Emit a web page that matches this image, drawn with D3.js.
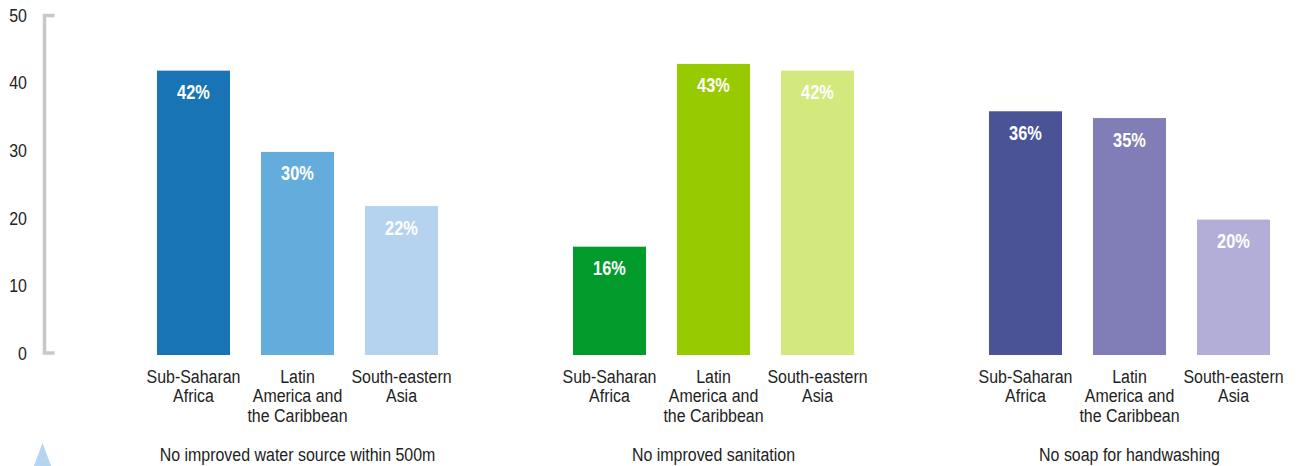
<!DOCTYPE html>
<html>
<head>
<meta charset="utf-8">
<script src="https://cdn.jsdelivr.net/npm/d3@7"></script>
<style>
  html, body { margin: 0; padding: 0; background: #ffffff; }
  svg { display: block; }
</style>
</head>
<body>
<svg id="chart" width="1296" height="466"></svg>
<script>
// ---- data ----
const groups = ["No improved water source within 500m", "No improved sanitation", "No soap for handwashing"];
const regions = ["Sub-Saharan Africa", "Latin America and the Caribbean", "South-eastern Asia"];
const regionLines = [["Sub-Saharan", "Africa"], ["Latin", "America and", "the Caribbean"], ["South-eastern", "Asia"]];
const waterValues = [42, 30, 22];
const sanitationValues = [16, 43, 42];
const soapValues = [36, 35, 20];
const yTicks = [0, 10, 20, 30, 40, 50];
const palettes = [
  ["#1874b4", "#64acdc", "#b5d3ef"],
  ["#009b2a", "#98ca00", "#d3e87d"],
  ["#4a5396", "#817db6", "#b3aed8"]
];
const seriesValues = [waterValues, sanitationValues, soapValues];

// ---- layout ----
const svg = d3.select("#chart");
const font = "'Liberation Sans', Arial, sans-serif";
const SX = 0.84; // horizontal condensing to mimic a narrow face

const y = d3.scaleLinear().domain([0, 50]).range([355, 16.5]);
const x0 = d3.scaleBand().domain(groups).range([141.5, 1285.5]).paddingInner(0.25).paddingOuter(0);
const x1 = d3.scaleBand().domain(regions).range([0, x0.bandwidth()]).paddingInner(0.298).paddingOuter(0.149);

function narrowText(sel, cx, cy) {
  return sel.append("text")
    .attr("transform", `translate(${cx},${cy}) scale(${SX},1)`)
    .attr("font-family", font);
}

// y axis bracket
const bx = 44.5;
svg.append("path")
  .attr("d", `M${bx + 10},${y(50) - 1} H${bx} V${y(0) - 2} H${bx + 10}`)
  .attr("fill", "none")
  .attr("stroke", "#c8c8c4")
  .attr("stroke-width", 3.5);

const yAxisG = svg.append("g");
yTicks.forEach(d => {
  narrowText(yAxisG, 27, y(d) + 5)
    .attr("text-anchor", "end")
    .attr("font-size", 19)
    .attr("fill", "#222")
    .text(d);
});

// groups
const g = svg.append("g").selectAll("g")
  .data(groups.map((name, i) => ({ name, i, values: seriesValues[i] })))
  .join("g")
  .attr("transform", d => `translate(${x0(d.name)},0)`);

g.selectAll("rect")
  .data(d => regions.map((r, j) => ({ r, j, v: d.values[j], c: palettes[d.i][j] })))
  .join("rect")
  .attr("x", d => x1(d.r))
  .attr("y", d => y(d.v))
  .attr("width", x1.bandwidth())
  .attr("height", d => y(0) - y(d.v))
  .attr("fill", d => d.c);

g.each(function(gd) {
  const gg = d3.select(this);
  regions.forEach((r, j) => {
    const cx = x1(r) + x1.bandwidth() / 2;
    const v = gd.values[j];
    // value label
    narrowText(gg, cx, y(v) + 28.5)
      .attr("text-anchor", "middle")
      .attr("font-weight", "bold")
      .attr("font-size", 19.5)
      .attr("fill", "#ffffff")
      .text(v + "%");
    // category label
    const t = narrowText(gg, cx, 383)
      .attr("text-anchor", "middle")
      .attr("font-size", 19)
      .attr("fill", "#222");
    regionLines[j].forEach((line, k) => {
      t.append("tspan")
        .attr("x", 0)
        .attr("y", k * 19.5)
        .text(line);
    });
  });
  // group title
  narrowText(gg, x0.bandwidth() / 2, 461)
    .attr("text-anchor", "middle")
    .attr("font-size", 19)
    .attr("fill", "#222")
    .text(gd.name);
});

// decorative triangle
svg.append("path")
  .attr("d", "M42.5,443 L33.5,467 L51.5,467 Z")
  .attr("fill", "#b4d4ef");
</script>
</body>
</html>
